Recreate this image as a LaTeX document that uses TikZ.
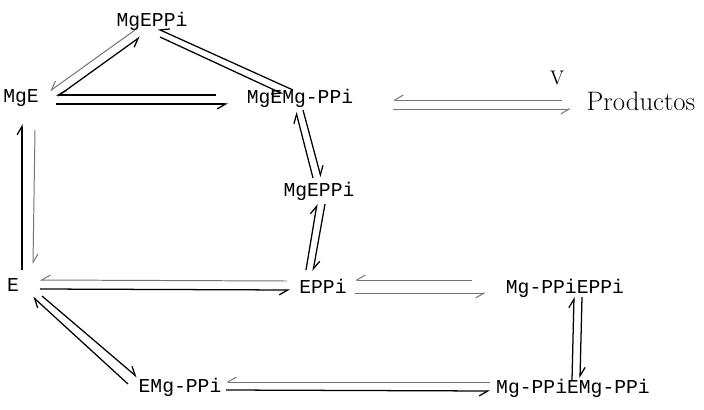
\documentclass[tikz,border=0pt]{standalone}
\usepackage{fontspec}
\setmonofont{Liberation Mono}
\usepackage{tikz}
\usetikzlibrary{arrows.meta}

\begin{document}
\begin{tikzpicture}[x=0.025cm, y=-0.025cm,
  lbl/.style={font=\ttfamily\fontsize{14}{16}\selectfont, inner sep=1pt},
  hand/.style={font=\fontsize{19}{22}\selectfont, inner sep=1pt},
  hl/.style={line width=0.9pt, -{Straight Barb[harpoon, length=6pt, width=7pt]}},
  hr/.style={line width=0.9pt, -{Straight Barb[harpoon, swap, length=6pt, width=7pt]}},
  faint/.style={draw=black!55, line width=0.7pt}]
\useasboundingbox (0,0) rectangle (704,409);

\node [lbl] (top) at (152,21) {MgEPPi};
\node [lbl] (mge) at (21,98) {MgE};
\node [lbl] (mgemg) at (300,98) {MgEMg-PPi};
\node [hand] (v) at (557,78) {\fontsize{14}{16}\selectfont V};
\node [hand] (prod) at (641,101) {Productos};
\node [lbl] (mid) at (319,191) {MgEPPi};
\node [lbl] (e) at (13,285) {E};
\node [lbl] (eppi) at (323,286) {EPPi};
\node [lbl] (mpe) at (565,288) {Mg-PPiEPPi};
\node [lbl] (emg) at (180,387) {EMg-PPi};
\node [lbl] (mpem) at (573,388) {Mg-PPiEMg-PPi};

\draw [hr, faint] ([shift={(-17,9)}]top.center) -- ([shift={(29,-7)}]mge.center);
\draw [hr] ([shift={(37,-2)}]mge.center) -- ([shift={(-12,16)}]top.center);
\draw [hr] ([shift={(-7,-8)}]mgemg.center) -- ([shift={(6,8)}]top.center);
\draw [hr] ([shift={(8,16)}]top.center) -- ([shift={(-17,-4)}]mgemg.center);

\draw [hr] ([shift={(-84,-3)}]mgemg.center) -- ([shift={(35,-3)}]mge.center);
\draw [hr] ([shift={(35,6)}]mge.center) -- ([shift={(-72,6)}]mgemg.center);
\draw [hr, faint] ([shift={(-79,-1)}]prod.center) -- ([shift={(93,2)}]mgemg.center);
\draw [hr, faint] ([shift={(93,11)}]mgemg.center) -- ([shift={(-70,8)}]prod.center);

\draw [hl] ([shift={(9,-15)}]e.center) -- ([shift={(1,26)}]mge.center);
\draw [hl, faint] ([shift={(14,32)}]mge.center) -- ([shift={(20,-21)}]e.center);
\draw [hl] ([shift={(-6,-13)}]mid.center) -- ([shift={(-4,14)}]mgemg.center);
\draw [hl] ([shift={(3,12)}]mgemg.center) -- ([shift={(2,-14)}]mid.center);
\draw [hl] ([shift={(-17,-16)}]eppi.center) -- ([shift={(-2,13)}]mid.center);
\draw [hl] ([shift={(6,13)}]mid.center) -- ([shift={(-10,-15)}]eppi.center);

\draw [hr, faint] ([shift={(-36,-5)}]eppi.center) -- ([shift={(27,-5)}]e.center);
\draw [hr] ([shift={(27,4)}]e.center) -- ([shift={(-33,4)}]eppi.center);
\draw [hr, faint] ([shift={(-93,-8)}]mpe.center) -- ([shift={(32,-6)}]eppi.center);
\draw [hr, faint] ([shift={(32,7)}]eppi.center) -- ([shift={(-79,5)}]mpe.center);

\draw [hl] ([shift={(-1,-8)}]mpem.center) -- ([shift={(9,9)}]mpe.center);
\draw [hl] ([shift={(17,9)}]mpe.center) -- ([shift={(7,-10)}]mpem.center);
\draw [hr, faint] ([shift={(-83,-6)}]mpem.center) -- ([shift={(46,-5)}]emg.center);
\draw [hr] ([shift={(46,3)}]emg.center) -- ([shift={(-83,3)}]mpem.center);

\draw [hl] ([shift={(-52,-3)}]emg.center) -- ([shift={(20,12)}]e.center);
\draw [hl] ([shift={(29,11)}]e.center) -- ([shift={(-43,-10)}]emg.center);
\end{tikzpicture}
\end{document}
